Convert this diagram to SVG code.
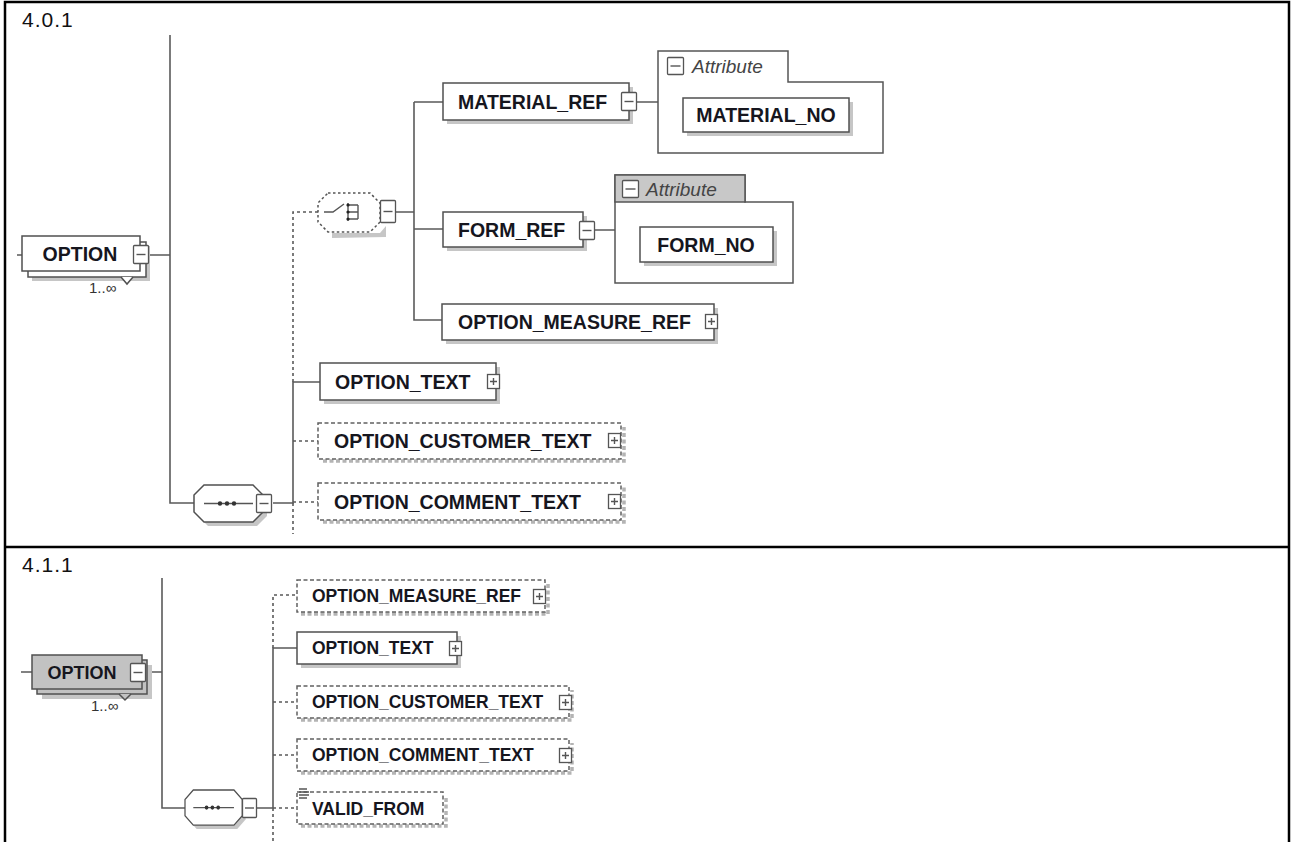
<svg xmlns="http://www.w3.org/2000/svg" width="1292" height="842" viewBox="0 0 1292 842">
<defs>
<style>
.frame{fill:none;stroke:#000;stroke-width:2.5}
.num{font-family:"Liberation Sans",Arial,sans-serif;font-size:21px;fill:#111;letter-spacing:1px}
.lbl{font-family:"Liberation Sans",Arial,sans-serif;font-weight:bold;fill:#16161e}
.big{font-size:19.5px}
.small{font-size:17.5px}
.box{fill:#fff;stroke:#505050;stroke-width:1.5}
.gbox{fill:#c2c2c2;stroke:#505050;stroke-width:1.5}
.sh{fill:#c6c6c6}
.obox{fill:#fff;stroke:#606060;stroke-width:1.5;stroke-dasharray:4 2.5}
.osh{fill:none;stroke:#b4b4b4;stroke-width:3.5;stroke-dasharray:4 2.5}
.con{fill:none;stroke:#5a5a5a;stroke-width:1.6}
.dcon{fill:none;stroke:#5a5a5a;stroke-width:1.6;stroke-dasharray:3 3}
.ico{fill:#fff;stroke:#555;stroke-width:1.3}
.icl{fill:none;stroke:#555;stroke-width:1.4}
.cont{fill:#fff;stroke:#555;stroke-width:1.5}
.attr{font-family:"Liberation Sans",Arial,sans-serif;font-style:italic;font-size:19px;fill:#444}
.card{font-family:"Liberation Sans",Arial,sans-serif;font-size:15px;fill:#333}
</style>
<g id="plus"><rect class="ico" x="0.5" y="0.5" width="12" height="14"/><path class="icl" d="M3 7.5H10M6.5 4V11"/></g>
<g id="minus"><rect class="ico" x="0.5" y="0.5" width="15" height="18" rx="1"/><path class="icl" d="M3.5 9.5H12.5"/></g>
<g id="seq">
  <polygon class="sh" points="14,4 63,4 73,14 73,31 63,41 14,41 4,31 4,14"/>
  <polygon class="box" points="10,0 59,0 69,10 69,27 59,37 10,37 0,27 0,10"/>
  <path class="icl" d="M10 18.5H59"/>
  <circle cx="26" cy="18.5" r="2.2" fill="#333"/><circle cx="33" cy="18.5" r="2.2" fill="#333"/><circle cx="40" cy="18.5" r="2.2" fill="#333"/>
</g>
</defs>

<!-- table frame -->
<g id="frame">
  <path class="frame" d="M5 842V2H1289V842M5 547H1289"/>
  <text class="num" x="22" y="27">4.0.1</text>
  <text class="num" x="22" y="572">4.1.1</text>
</g>

<!-- connectors -->
<g id="connectors">
  <!-- upper diagram -->
  <path class="con" d="M17 255H22M149 255H170M170 35V503H194"/>
  <path class="con" d="M273 503H293V382H320"/>
  <path class="dcon" d="M293 503V534M293 382V212H318"/>
  <path class="dcon" d="M293 441H318M293 502H318"/>
  <path class="con" d="M396 212H414M414 102V320H442M414 102H443M414 229H443"/>
  <path class="con" d="M637 102H658M595 230H615"/>
  <!-- lower diagram -->
  <path class="con" d="M21 672H32M146 672H162M162 578V808H185"/>
  <path class="con" d="M257 808H273V648H297"/>
  <path class="dcon" d="M273 808V842M273 648V595H297M273 702H297M273 755H297M273 808H297"/>
</g>

<!-- upper diagram nodes -->
<g id="option-a">
  <rect class="sh" x="32" y="246" width="118" height="35"/>
  <rect class="box" x="28" y="242" width="118" height="35"/>
  <path class="box" d="M121 277L127 284L133 277"/>
  <rect class="box" x="22" y="236" width="118" height="35"/>
  <text class="lbl big" x="80" y="261" text-anchor="middle">OPTION</text>
  <use href="#minus" x="133" y="245"/>
  <text class="card" x="89" y="293">1..∞</text>
</g>

<g id="choice-a">
  <polygon class="sh" points="332,233 380,233 386,226 386,237 332,238"/>
  <polygon fill="#fff" stroke="#555" stroke-width="1.5" stroke-dasharray="2.5 2.5" points="328,193 370,193 380,203 380,222 370,232 328,232 318,222 318,203"/>
  <path class="icl" d="M324 212H333L344 204M348 203V221M348 205H358M348 212H358M348 219H358M358 205V219"/>
  <circle cx="348" cy="205" r="1.6" fill="#222"/><circle cx="348" cy="212" r="1.6" fill="#222"/><circle cx="348" cy="219" r="1.6" fill="#222"/>
  <rect class="ico" x="380.5" y="200.5" width="15" height="22" rx="1"/>
  <path class="icl" d="M383.5 211.5H392.5"/>
</g>

<g id="material-ref">
  <rect class="sh" x="447" y="87" width="186" height="37"/>
  <rect class="box" x="443" y="83" width="186" height="37"/>
  <text class="lbl big" x="458" y="109">MATERIAL_REF</text>
  <use href="#minus" x="621" y="92"/>
</g>

<g id="material-attr">
  <path class="cont" d="M658 153V51H788V82H883V153Z"/>
  <rect class="ico" x="667.5" y="57.5" width="16" height="17" rx="1"/>
  <path class="icl" d="M670.5 66H680.5"/>
  <text class="attr" x="692" y="73">Attribute</text>
  <rect class="sh" x="687" y="102" width="166" height="34"/>
  <rect class="box" x="683" y="98" width="166" height="34"/>
  <text class="lbl big" x="766" y="122" text-anchor="middle">MATERIAL_NO</text>
</g>

<g id="form-ref">
  <rect class="sh" x="447" y="216" width="140" height="35"/>
  <rect class="box" x="443" y="212" width="140" height="35"/>
  <text class="lbl big" x="458" y="237">FORM_REF</text>
  <use href="#minus" x="579" y="221"/>
</g>

<g id="form-attr">
  <path class="cont" d="M615 283V175H745V202H793V283Z"/>
  <path fill="#c8c8c8" stroke="#555" stroke-width="1.5" d="M615 202V175H745V202Z"/>
  <rect class="ico" x="622.5" y="180.5" width="16" height="17" rx="1"/>
  <path class="icl" d="M625.5 189H635.5"/>
  <text class="attr" x="646" y="196">Attribute</text>
  <rect class="sh" x="644" y="231" width="133" height="35"/>
  <rect class="box" x="640" y="227" width="133" height="35"/>
  <text class="lbl big" x="706" y="252" text-anchor="middle">FORM_NO</text>
</g>

<g id="option-measure-ref-a">
  <rect class="sh" x="446" y="308" width="272" height="36"/>
  <rect class="box" x="442" y="304" width="272" height="36"/>
  <text class="lbl big" x="458" y="329">OPTION_MEASURE_REF</text>
  <use href="#plus" x="705" y="314"/>
</g>

<g id="option-text-a">
  <rect class="sh" x="324" y="367" width="176" height="37"/>
  <rect class="box" x="320" y="363" width="176" height="37"/>
  <text class="lbl big" x="335" y="389">OPTION_TEXT</text>
  <use href="#plus" x="487" y="374"/>
</g>

<g id="option-customer-text-a">
  <path class="osh" d="M323 461H624V427"/>
  <rect class="obox" x="318" y="423" width="303" height="36"/>
  <text class="lbl big" x="334" y="448">OPTION_CUSTOMER_TEXT</text>
  <use href="#plus" x="608" y="433"/>
</g>

<g id="option-comment-text-a">
  <path class="osh" d="M323 522H624V487"/>
  <rect class="obox" x="318" y="483" width="303" height="37"/>
  <text class="lbl big" x="334" y="509">OPTION_COMMENT_TEXT</text>
  <use href="#plus" x="608" y="494"/>
</g>

<g id="sequence-a">
  <use href="#seq" x="194" y="485"/>
  <use href="#minus" x="256" y="494"/>
</g>

<!-- lower diagram nodes -->
<g id="option-b">
  <rect class="sh" x="42" y="665" width="110" height="34"/>
  <rect class="gbox" x="37" y="660" width="110" height="34"/>
  <path class="gbox" d="M119 694L125 700L131 694"/>
  <rect class="gbox" x="32" y="655" width="110" height="34"/>
  <text class="lbl" font-size="18" x="82" y="679" text-anchor="middle">OPTION</text>
  <rect class="ico" x="130.5" y="663.5" width="15" height="18" rx="1"/>
  <path class="icl" d="M133.5 672.5H142.5"/>
  <text class="card" x="91" y="711">1..∞</text>
</g>

<g id="option-measure-ref-b">
  <path class="osh" d="M301 614H548V584"/>
  <rect class="obox" x="297" y="580" width="248" height="32"/>
  <text class="lbl small" x="312" y="602">OPTION_MEASURE_REF</text>
  <use href="#plus" x="533" y="589"/>
</g>

<g id="option-text-b">
  <rect class="sh" x="301" y="636" width="160" height="32"/>
  <rect class="box" x="297" y="632" width="160" height="32"/>
  <text class="lbl small" x="312" y="654">OPTION_TEXT</text>
  <use href="#plus" x="449" y="641"/>
</g>

<g id="option-customer-text-b">
  <path class="osh" d="M301 720H572V690"/>
  <rect class="obox" x="297" y="686" width="272" height="32"/>
  <text class="lbl small" x="312" y="708">OPTION_CUSTOMER_TEXT</text>
  <use href="#plus" x="559" y="695"/>
</g>

<g id="option-comment-text-b">
  <path class="osh" d="M301 773H572V743"/>
  <rect class="obox" x="297" y="739" width="272" height="32"/>
  <text class="lbl small" x="312" y="761">OPTION_COMMENT_TEXT</text>
  <use href="#plus" x="559" y="748"/>
</g>

<g id="valid-from">
  <path class="osh" d="M301 826H446V796"/>
  <rect class="obox" x="297" y="792" width="146" height="32"/>
  <path class="icl" d="M299 789H307M299 792H309M299 795H309M299 798H307" stroke-width="1.1"/>
  <text class="lbl small" x="312" y="815">VALID_FROM</text>
</g>

<g id="sequence-b">
  <g transform="translate(185 790) scale(0.83 0.95)"><use href="#seq"/></g>
  <rect class="ico" x="242.5" y="798.5" width="14" height="19" rx="1"/>
  <path class="icl" d="M245 808H254"/>
</g>
</svg>
